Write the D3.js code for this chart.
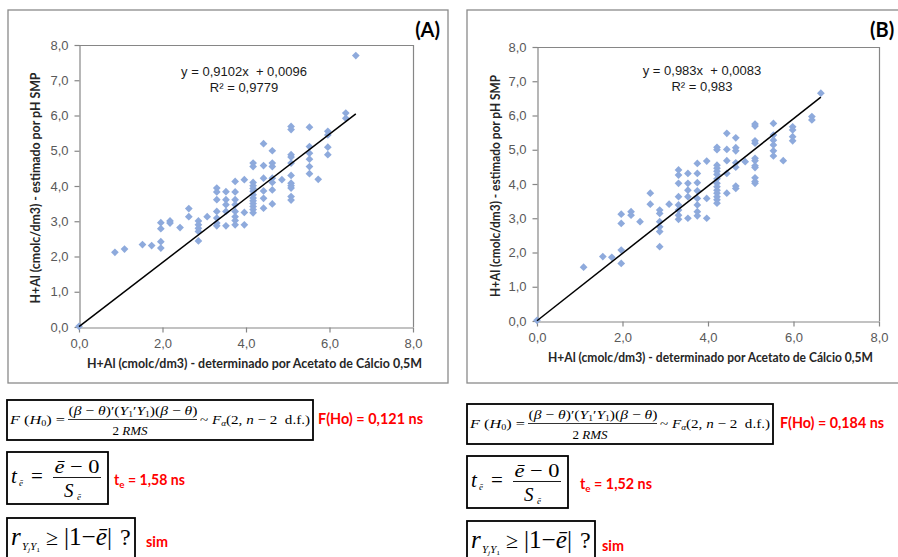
<!DOCTYPE html>
<html>
<head>
<meta charset="utf-8">
<script src="https://cdn.jsdelivr.net/npm/d3@7"></script>
<style>
  body { margin: 0; background: #fff; }
  svg { display: block; }
</style>
</head>
<body>
<svg id="chart" width="898" height="557"></svg>
<script>
// H+Al determined by calcium acetate (x) vs estimated by pH SMP (y), two calibrations
const measuredA = [
  0.00, 0.86, 1.09, 1.52, 1.74,
  1.96, 1.96, 1.96, 1.96,
  2.18, 2.18, 2.42, 2.63, 2.63,
  2.86, 2.86, 2.86, 2.86, 2.86, 3.07,
  3.30, 3.30, 3.30, 3.30, 3.30, 3.30, 3.30,
  3.52, 3.52, 3.52, 3.52, 3.52,
  3.74, 3.74, 3.74, 3.74, 3.74, 3.74, 3.74, 3.74,
  3.96, 3.96, 3.96,
  4.17, 4.17, 4.17, 4.17, 4.17, 4.17, 4.17, 4.17, 4.17, 4.17, 4.17, 4.17, 4.17,
  4.42, 4.42, 4.42, 4.42, 4.42, 4.42,
  4.63, 4.63, 4.63, 4.63, 4.63, 4.63, 4.63,
  4.86,
  5.08, 5.08, 5.08, 5.08, 5.08, 5.08, 5.08, 5.08, 5.08, 5.08, 5.08,
  5.52, 5.52, 5.52, 5.52, 5.52, 5.52,
  5.73, 5.96, 5.96, 5.96, 5.96, 6.39, 6.39, 6.63
];
const estimatedA = [
  0.02, 2.12, 2.21, 2.34, 2.31,
  2.96, 2.79, 2.42, 2.24,
  3.01, 2.95, 2.82, 3.36, 3.13,
  3.01, 2.90, 2.80, 2.71, 2.44, 3.13,
  3.94, 3.83, 3.61, 3.28, 3.09, 2.95, 2.87,
  3.84, 3.61, 3.47, 3.28, 2.87,
  4.13, 3.83, 3.61, 3.47, 3.28, 3.13, 3.02, 2.90,
  4.18, 3.25, 2.90,
  4.65, 4.55, 4.10, 4.01, 3.93, 3.85, 3.75, 3.66, 3.58, 3.50, 3.42, 3.33, 3.24,
  5.20, 4.58, 4.22, 3.86, 3.65, 3.37,
  5.00, 4.65, 4.55, 4.22, 4.10, 3.89, 3.49,
  4.18,
  5.69, 5.60, 4.89, 4.82, 4.65, 4.30, 4.08, 4.01, 3.94, 3.70, 3.60,
  5.67, 5.12, 4.93, 4.76, 4.55, 4.35,
  4.19, 5.55, 5.45, 5.10, 4.89, 6.07, 5.92, 7.70
];
const measuredB = [
  0.00, 1.09, 1.54, 1.75,
  1.97, 1.97, 1.97, 1.97,
  2.20, 2.20, 2.41, 2.65, 2.65,
  2.87, 2.87, 2.87, 2.87, 2.87, 2.87, 3.09,
  3.31, 3.31, 3.31, 3.31, 3.31, 3.31, 3.31, 3.31,
  3.53, 3.53, 3.53, 3.53, 3.53,
  3.75, 3.75, 3.75, 3.75, 3.75, 3.75, 3.75, 3.75,
  3.97, 3.97, 3.97,
  4.21, 4.21, 4.21, 4.21, 4.21, 4.21, 4.21, 4.21, 4.21, 4.21, 4.21, 4.21, 4.21, 4.21,
  4.44, 4.44, 4.44, 4.44, 4.44,
  4.65, 4.65, 4.65, 4.65, 4.65, 4.65, 4.65,
  4.87,
  5.10, 5.10, 5.10, 5.10, 5.10, 5.10, 5.10, 5.10, 5.10, 5.10, 5.10,
  5.53, 5.53, 5.53, 5.53, 5.53, 5.53,
  5.76, 5.98, 5.98, 5.98, 5.98, 6.43, 6.43, 6.64
];
const estimatedB = [
  0.02, 1.57, 1.88, 1.86,
  3.12, 2.85, 2.07, 1.68,
  3.19, 3.09, 2.90, 3.73, 3.41,
  3.24, 3.14, 2.90, 2.75, 2.61, 2.17, 3.41,
  4.41, 4.26, 4.02, 3.63, 3.39, 3.24, 3.09, 2.97,
  4.31, 4.02, 3.82, 3.63, 3.00,
  4.60, 4.31, 4.04, 3.80, 3.58, 3.39, 3.19, 3.07,
  4.67, 3.58, 3.00,
  5.07, 5.00, 4.55, 4.46, 4.37, 4.28, 4.15, 4.02, 3.92, 3.82, 3.73, 3.63, 3.54, 3.44,
  5.48, 5.01, 4.68, 4.31, 3.73,
  5.35, 5.06, 4.97, 4.62, 4.49, 3.94, 3.87,
  4.65,
  5.75, 5.69, 5.26, 5.19, 4.75, 4.68, 4.53, 4.48, 4.18, 4.07, 4.02,
  5.77, 5.43, 5.28, 5.14, 4.97, 4.82,
  4.68, 5.67, 5.58, 5.38, 5.26, 5.97, 5.87, 6.65
];

const xTicks = [0, 2, 4, 6, 8];
const yTicks = [0, 1, 2, 3, 4, 5, 6, 7, 8];
const panelLabels = ["(A)", "(B)"];
const slopes = [0.9102, 0.983];
const intercepts = [0.0096, 0.0083];
const equationLabels = ["y = 0,9102x  + 0,0096", "y = 0,983x  + 0,0083"];
const r2Labels = ["R² = 0,9779", "R² = 0,983"];
const fTestLabels = ["F(Ho) = 0,121 ns", "F(Ho) = 0,184 ns"];
const tTestValues = [" = 1,58 ns", " = 1,52 ns"];
const agreementLabels = ["sim", "sim"];
const xTitle = "H+Al (cmolc/dm3) - determinado por Acetato de Cálcio 0,5M";
const yTitle = "H+Al (cmolc/dm3) - estimado por pH SMP";

const svg = d3.select("#chart");
const fmt = d => d.toFixed(1).replace(".", ",");
const axisGray = "#868686";
const markerColor = "#8eaadc";
const sans = "'Liberation Sans', Arial, sans-serif";
const boldSans = "Lato, 'Open Sans', sans-serif";
const serif = "'Liberation Serif', 'Times New Roman', serif";

function drawPanel(i, xs, ys, L) {
  const g = svg.append("g");

  // outer chart frame
  g.append("rect")
    .attr("x", L.frame[0]).attr("y", L.frame[1])
    .attr("width", L.frame[2]).attr("height", L.frame[3])
    .attr("fill", "none").attr("stroke", "#8a8a8a").attr("stroke-width", 1.3);

  const x = d3.scaleLinear().domain([0, 8]).range([L.left, L.right]);
  const y = d3.scaleLinear().domain([0, 8]).range([L.bottom, L.top]);

  // plot-area border (top and right)
  g.append("path")
    .attr("d", `M${L.left},${L.top + 0.5}H${L.right + 0.5}V${L.bottom}`)
    .attr("fill", "none").attr("stroke", axisGray).attr("stroke-width", 1.2);

  const xAxis = g.append("g")
    .attr("transform", `translate(0,${L.bottom + 0.5})`)
    .call(d3.axisBottom(x).tickValues(xTicks).tickSize(5).tickSizeOuter(0)
      .tickPadding(6).tickFormat(fmt));
  const yAxis = g.append("g")
    .attr("transform", `translate(${L.left + 0.5},0)`)
    .call(d3.axisLeft(y).tickValues(yTicks).tickSize(5).tickSizeOuter(0)
      .tickPadding(6).tickFormat(fmt));
  [xAxis, yAxis].forEach(a => {
    a.select(".domain").attr("stroke", axisGray).attr("stroke-width", 1.2);
    a.selectAll(".tick line").attr("stroke", axisGray).attr("stroke-width", 1.2);
    a.selectAll(".tick text").attr("fill", "#595959")
      .style("font-family", sans).style("font-size", "13px");
  });

  // observations
  const pts = xs.map((v, k) => [v, ys[k]]);
  g.append("g").selectAll("path").data(pts).join("path")
    .attr("d", d3.symbol(d3.symbolSquare, 30))
    .attr("transform", d => `translate(${x(d[0])},${y(d[1])}) rotate(45)`)
    .attr("fill", markerColor);

  // linear trend line
  const xMax = d3.max(xs);
  const line = d3.line().x(d => x(d)).y(d => y(slopes[i] * d + intercepts[i]));
  g.append("path").datum([0, xMax]).attr("d", line)
    .attr("stroke", "#000").attr("stroke-width", 1.5).attr("fill", "none");

  // trend equation
  g.append("text").attr("x", L.eqX).attr("y", L.eqY).attr("text-anchor", "middle")
    .style("font-family", sans).style("font-size", "13px").attr("fill", "#1a1a1a")
    .style("white-space", "pre").text(equationLabels[i]);
  g.append("text").attr("x", L.eqX).attr("y", L.eqY + 16).attr("text-anchor", "middle")
    .style("font-family", sans).style("font-size", "13px").attr("fill", "#1a1a1a")
    .text(r2Labels[i]);

  // axis titles
  g.append("text").attr("x", L.xTitleX).attr("y", L.bottom + 41)
    .attr("text-anchor", "middle").attr("textLength", L.xTitleLen)
    .attr("lengthAdjust", "spacingAndGlyphs")
    .style("font-family", boldSans).style("font-weight", "bold").style("font-size", "12.5px")
    .attr("fill", "#262626").text(xTitle);
  g.append("text")
    .attr("transform", `translate(${L.yTitleX},${(L.top + L.bottom) / 2 + 2}) rotate(-90)`)
    .attr("text-anchor", "middle").attr("textLength", L.yTitleLen)
    .attr("lengthAdjust", "spacingAndGlyphs")
    .style("font-family", boldSans).style("font-weight", "bold").style("font-size", "12.5px")
    .attr("fill", "#262626").text(yTitle);

  // panel letter
  g.append("text").attr("x", L.labelX).attr("y", 37)
    .attr("text-anchor", L.labelAnchor)
    .style("font-family", boldSans).style("font-weight", "bold").style("font-size", "20px")
    .attr("fill", "#000").text(panelLabels[i]);
}

drawPanel(0, measuredA, estimatedA, {
  frame: [8, 10, 440, 373], left: 79, right: 413, top: 45, bottom: 327,
  eqX: 244, eqY: 76, xTitleX: 254.5, xTitleLen: 335, yTitleX: 40, yTitleLen: 231,
  labelX: 440, labelAnchor: "end"
});
drawPanel(1, measuredB, estimatedB, {
  frame: [467, 10, 460, 373], left: 537, right: 879, top: 47, bottom: 321,
  eqX: 702, eqY: 75, xTitleX: 710.5, xTitleLen: 325, yTitleX: 500, yTitleLen: 222,
  labelX: 870, labelAnchor: "start"
});

// ---- test statistics shown under each chart ----
function addText(g, x, y, size, parts, opts = {}) {
  const t = g.append("text").attr("x", x).attr("y", y)
    .style("font-family", serif).style("font-size", size + "px")
    .style("white-space", "pre").attr("fill", "#000");
  if (opts.anchor) t.attr("text-anchor", opts.anchor);
  if (opts.len) t.attr("textLength", opts.len).attr("lengthAdjust", "spacingAndGlyphs");
  parts.forEach(p => {
    const s = t.append("tspan").text(p.t);
    if (p.i) s.style("font-style", "italic");
    if (p.s) s.style("font-size", p.s + "px");
    if (p.dy) s.attr("dy", p.dy);
  });
  return t;
}

function drawStats(i, ox, oy1, oy2, oy3) {
  const g = svg.append("g");
  const box = (x, y, w, h) => g.append("rect").attr("x", x).attr("y", y)
    .attr("width", w).attr("height", h).attr("fill", "none")
    .attr("stroke", "#000").attr("stroke-width", 1.8);

  // F test for H0: beta = theta
  box(ox, oy1, 306, 40);
  addText(g, ox + 3, oy1 + 24, 13, [
    {t: "F", i: 1}, {t: " ("}, {t: "H", i: 1}, {t: "0", s: 8, dy: 2}, {t: ") =", dy: -2}
  ], {len: 55});
  addText(g, ox + 126, oy1 + 15, 13, [
    {t: "("}, {t: "β", i: 1}, {t: " − "}, {t: "θ", i: 1}, {t: ")′("},
    {t: "Y", i: 1}, {t: "1", s: 8, dy: 2}, {t: "′", dy: -2}, {t: "Y", i: 1},
    {t: "1", s: 8, dy: 2}, {t: ")(", dy: -2}, {t: "β", i: 1}, {t: " − "},
    {t: "θ", i: 1}, {t: ")"}
  ], {anchor: "middle", len: 129});
  g.append("line").attr("x1", ox + 61).attr("x2", ox + 190)
    .attr("y1", oy1 + 19.5).attr("y2", oy1 + 19.5).attr("stroke", "#000").attr("stroke-width", 0.8);
  addText(g, ox + 123, oy1 + 35, 13, [{t: "2 "}, {t: "RMS", i: 1}], {anchor: "middle", len: 35});
  addText(g, ox + 193, oy1 + 24, 13, [
    {t: "~ "}, {t: "F", i: 1}, {t: "α", i: 1, s: 8, dy: 2}, {t: "(2, ", dy: -2},
    {t: "n", i: 1}, {t: " − 2  d.f.)"}
  ], {len: 110});

  // t test on mean error
  box(ox, oy2, 101, 52);
  addText(g, ox + 4, oy2 + 31, 21, [{t: "t", i: 1}]);
  addText(g, ox + 12, oy2 + 34, 9, [{t: "ē", i: 1}]);
  addText(g, ox + 24, oy2 + 31, 21, [{t: "="}]);
  addText(g, ox + 70, oy2 + 21, 19, [{t: "ē", i: 1}, {t: " − 0"}], {anchor: "middle", len: 45});
  g.append("line").attr("x1", ox + 46).attr("x2", ox + 94)
    .attr("y1", oy2 + 25.5).attr("y2", oy2 + 25.5).attr("stroke", "#000").attr("stroke-width", 0.9);
  addText(g, ox + 57, oy2 + 45, 19, [{t: "S", i: 1}]);
  addText(g, ox + 70, oy2 + 48, 9, [{t: "ē", i: 1}]);

  // correlation check
  box(ox, oy3, 128, 60);
  addText(g, ox + 4, oy3 + 27, 25, [{t: "r", i: 1}]);
  addText(g, ox + 15, oy3 + 32, 10, [
    {t: "Y", i: 1}, {t: "j", i: 1, s: 7, dy: 2}, {t: "Y", i: 1, dy: -2}, {t: "1", s: 7, dy: 2}
  ], {len: 18});
  addText(g, ox + 39, oy3 + 27, 22, [{t: "≥"}]);
  addText(g, ox + 57, oy3 + 27, 25, [{t: "|1−"}, {t: "ē", i: 1}, {t: "|"}], {len: 48});
  addText(g, ox + 113, oy3 + 27, 24, [{t: "?"}]);

  // results in red
  const red = (x, y, parts, len) => {
    const t = g.append("text").attr("x", x).attr("y", y)
      .style("font-family", boldSans).style("font-weight", "bold").style("font-size", "14.5px")
      .style("white-space", "pre").attr("fill", "#ff0000");
    if (len) t.attr("textLength", len).attr("lengthAdjust", "spacingAndGlyphs");
    parts.forEach(p => {
      const s = t.append("tspan").text(p.t);
      if (p.s) s.style("font-size", p.s + "px");
      if (p.dy) s.attr("dy", p.dy);
    });
  };
  return { red, g };
}

const sA = drawStats(0, 7, 400, 452, 518);
sA.red(318, 424, [{t: fTestLabels[0]}], 105);
sA.red(114, 485, [{t: "t"}, {t: "e", s: 10, dy: 3}, {t: tTestValues[0], dy: -3}], 71);
sA.red(146, 547, [{t: agreementLabels[0]}], 22);

const sB = drawStats(1, 467, 404, 456, 521);
sB.red(780, 428, [{t: fTestLabels[1]}], 104);
sB.red(580, 489, [{t: "t"}, {t: "e", s: 10, dy: 3}, {t: tTestValues[1], dy: -3}], 72);
sB.red(602, 551, [{t: agreementLabels[1]}], 22);
</script>
</body>
</html>
